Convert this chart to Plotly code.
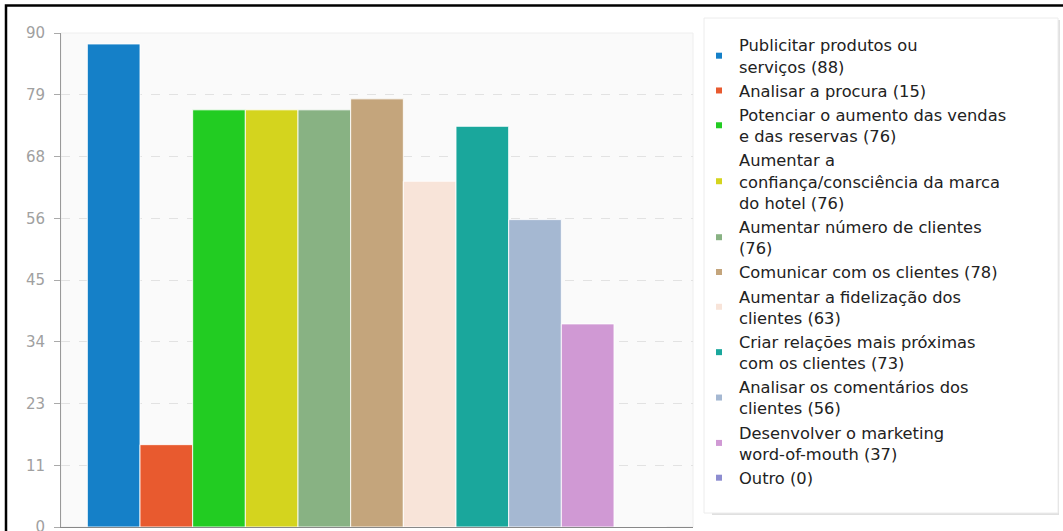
import plotly.graph_objects as go

# Survey answers: reasons for using social media (counts)
categories = [
    "Publicitar produtos ou<br>serviços",
    "Analisar a procura",
    "Potenciar o aumento das vendas<br>e das reservas",
    "Aumentar a<br>confiança/consciência da marca<br>do hotel",
    "Aumentar número de clientes<br>",
    "Comunicar com os clientes",
    "Aumentar a fidelização dos<br>clientes",
    "Criar relações mais próximas<br>com os clientes",
    "Analisar os comentários dos<br>clientes",
    "Desenvolver o marketing<br>word-of-mouth",
    "Outro",
]
values = [88, 15, 76, 76, 76, 78, 63, 73, 56, 37, 0]
colors = [
    "#1580c8", "#e85a2f", "#22cc22", "#d4d41e", "#88b283", "#c4a57c",
    "#f8e4d9", "#1aa79c", "#a5b8d2", "#d099d4", "#8d8dd0",
]

tick_vals = [0, 11.25, 22.5, 33.75, 45, 56.25, 67.5, 78.75, 90]
tick_text = ["0", "11", "23", "34", "45", "56", "68", "79", "90"]

W, H = 1063, 531
L, R, T, B = 61, 370, 33, 4
pw, ph = W - L - R, H - T - B


def px_x(p):
    return (p - L) / pw


def px_y(p):
    return (H - B - p) / ph


fig = go.Figure()
for i, (name, val, col) in enumerate(zip(categories, values, colors)):
    sep = "" if name.endswith("<br>") else " "
    label = f"{name}{sep}({val})"
    fig.add_trace(go.Bar(
        x=[i], y=[val], width=1, marker_color=col,
        marker_line=dict(color="rgba(255,255,255,0.85)", width=1),
        legendgroup=f"g{i}", showlegend=False, name=label,
    ))
    fig.add_trace(go.Scatter(
        x=[None], y=[None], mode="markers", name=label,
        marker=dict(symbol="square", size=6, color=col),
        legendgroup=f"g{i}", showlegend=True,
    ))

fig.update_layout(
    width=W, height=H,
    margin=dict(l=L, r=R, t=T, b=B, autoexpand=False),
    paper_bgcolor="white",
    plot_bgcolor="#fafafa",
    barmode="overlay",
    font=dict(family="DejaVu Sans", color="#222222"),
    showlegend=True,
    legend=dict(
        x=px_x(699), y=px_y(28), xanchor="left", yanchor="top",
        bgcolor="rgba(0,0,0,0)", borderwidth=0,
        font=dict(family="DejaVu Sans", size=16.3, color="#222222"),
        traceorder="normal", tracegroupgap=0, maxheight=1.0,
    ),
    xaxis=dict(
        range=[-1, 11], showticklabels=False, ticks="",
        showgrid=False, zeroline=False,
        showline=True, linecolor="#888888", linewidth=1,
    ),
    yaxis=dict(
        range=[0, 90], tickmode="array", tickvals=tick_vals, ticktext=tick_text,
        ticks="outside", ticklen=6, tickcolor="#aaaaaa", ticklabelstandoff=6,
        ticklabeloverflow="allow",
        tickfont=dict(family="DejaVu Sans", size=15, color="#a0a0a0"),
        showgrid=True, gridcolor="#e2e2e2", griddash="dash", gridwidth=1,
        zeroline=False, showline=True, linecolor="#999999", linewidth=1,
    ),
    shapes=[
        # faint outline on top and right of plotting area
        dict(type="rect", xref="paper", yref="paper", x0=0, y0=0, x1=1, y1=1,
             line=dict(color="#eeeeee", width=1), layer="below"),
        # legend panel with soft shadow along bottom and right
        dict(type="path", xref="paper", yref="paper",
             path=(f"M {px_x(712)} {px_y(514)} L {px_x(1058)} {px_y(514)} "
                   f"L {px_x(1059)} {px_y(20)}"),
             line=dict(color="#e0e0e0", width=2), layer="below"),
        dict(type="rect", xref="paper", yref="paper",
             x0=px_x(704), x1=px_x(1058), y0=px_y(513), y1=px_y(18),
             line=dict(color="#ececec", width=1), fillcolor="white",
             layer="below"),
        # outer frame (left and top edges)
        dict(type="path", xref="paper", yref="paper",
             path=f"M {px_x(6)} {px_y(531)} L {px_x(6)} {px_y(5.5)} L {px_x(1063)} {px_y(5.5)}",
             line=dict(color="black", width=2.5)),
    ],
)

fig.write_html("out.html")
